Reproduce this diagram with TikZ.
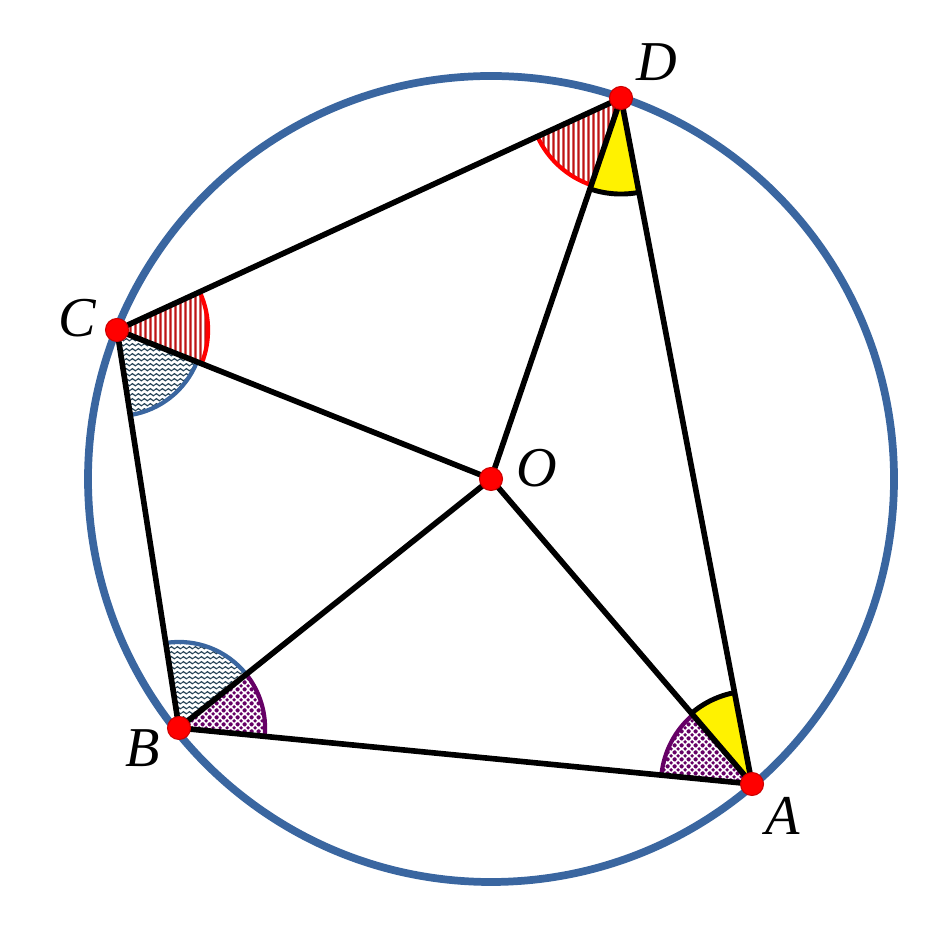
\documentclass[tikz,border=0pt]{standalone}
\usepackage{fontspec}
\setmainfont{Liberation Serif}
\usetikzlibrary{angles,patterns,patterns.meta}
\definecolor{cblue}{RGB}{58,102,160}
\definecolor{wavec}{RGB}{35,65,85}
\definecolor{cpurple}{RGB}{102,0,102}
\definecolor{cstripe}{RGB}{190,20,20}
\tikzdeclarepattern{
  name=vlinespat,
  type=uncolored,
  bottom left={(0pt,0pt)},
  top right={(1.4pt,1.4pt)},
  tile size={(1.4pt,1.4pt)},
  code={\draw[line width=0.65pt] (0.7pt,-0.1pt) -- (0.7pt,1.5pt);}
}
\tikzdeclarepattern{
  name=wavepat,
  type=uncolored,
  bottom left={(0pt,0pt)},
  top right={(1.8pt,1.35pt)},
  tile size={(1.8pt,1.35pt)},
  code={\draw[line width=0.35pt] (0pt,0.675pt) sin (0.45pt,1.0pt) cos (0.9pt,0.675pt) sin (1.35pt,0.35pt) cos (1.8pt,0.675pt);}
}
\tikzdeclarepattern{
  name=diampat,
  type=uncolored,
  bottom left={(0pt,0pt)},
  top right={(2pt,2pt)},
  tile size={(2pt,2pt)},
  code={
    \fill (1pt,0.4pt) -- (1.6pt,1pt) -- (1pt,1.6pt) -- (0.4pt,1pt) -- cycle;
    \fill (0pt,-0.6pt) -- (0.6pt,0pt) -- (0pt,0.6pt) -- (-0.6pt,0pt) -- cycle;
    \fill (2pt,-0.6pt) -- (2.6pt,0pt) -- (2pt,0.6pt) -- (1.4pt,0pt) -- cycle;
    \fill (0pt,1.4pt) -- (0.6pt,2pt) -- (0pt,2.6pt) -- (-0.6pt,2pt) -- cycle;
    \fill (2pt,1.4pt) -- (2.6pt,2pt) -- (2pt,2.6pt) -- (1.4pt,2pt) -- cycle;
  }
}
\tikzset{
  seg/.style={line width=1.6pt, black},
  dot/.style={circle, fill=red, draw=red!80!black, line width=0.3pt, inner sep=0pt, minimum size=0.23cm},
  lab/.style={font=\fontsize{16}{19}\selectfont\itshape, inner sep=0pt},
  redang/.style={draw=red, line width=1.2pt, pattern=vlinespat, pattern color=cstripe},
  yelang/.style={draw=black, line width=1.4pt, fill=yellow},
  blueang/.style={draw=cblue, line width=1.2pt, pattern=wavepat, pattern color=wavec},
  purang/.style={draw=cpurple, line width=1.2pt, pattern=diampat, pattern color=cpurple},
}
\begin{document}
\begin{tikzpicture}[x=0.01cm, y=0.01cm]
\useasboundingbox (0,0) rectangle (932,934);
\coordinate (O) at (491,455);
\coordinate (D) at (621,836);
\coordinate (C) at (117,604);
\coordinate (B) at (179,206);
\coordinate (A) at (752,150);
% circle
\draw[cblue, line width=2.2pt] (O) circle [radius=403];
% angle marks
\pic[redang, angle radius=0.92cm] {angle = C--D--O};
\pic[yelang, angle radius=0.96cm] {angle = O--D--A};
\pic[redang, angle radius=0.91cm] {angle = O--C--D};
\pic[blueang, angle radius=0.86cm] {angle = B--C--O};
\pic[blueang, angle radius=0.86cm] {angle = O--B--C};
\pic[purang, angle radius=0.86cm] {angle = A--B--O};
\pic[purang, angle radius=0.91cm] {angle = O--A--B};
\pic[yelang, angle radius=0.93cm] {angle = D--A--O};
% segments
\draw[seg] (D) -- (C) -- (B) -- (A) -- (D);
\draw[seg] (O) -- (A);
\draw[seg] (O) -- (B);
\draw[seg] (O) -- (C);
\draw[seg] (O) -- (D);
% points
\node[dot] (dO) at (O) {};
\node[dot] (dA) at (A) {};
\node[dot] (dB) at (B) {};
\node[dot] (dC) at (C) {};
\node[dot] (dD) at (D) {};
% labels
\node[lab] (lD) at (657,872) {D};
\node[lab] (lC) at (77,616) {C};
\node[lab] (lB) at (143,186) {B};
\node[lab] (lA) at (783,118) {A};
\node[lab] (lO) at (537,466) {O};
\end{tikzpicture}
\end{document}
